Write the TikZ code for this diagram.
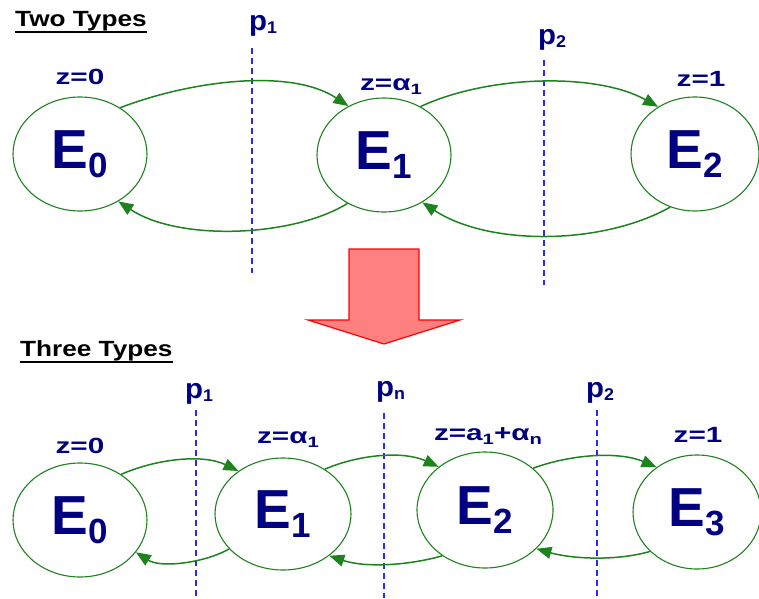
\documentclass[tikz,border=0pt]{standalone}
\usepackage{fontspec}
\setmainfont{Liberation Sans}
\usetikzlibrary{arrows.meta,shapes.geometric}
\definecolor{txtnavy}{RGB}{0,0,128}
\definecolor{edgegreen}{RGB}{30,130,30}
\definecolor{dashblue}{RGB}{40,40,255}
\definecolor{arrowfill}{RGB}{255,128,128}
\newcommand\lowsub[3]{\raisebox{-#2}{\fontsize{#1}{#1}\selectfont #3}}
\newcommand\Elab[1]{\fontsize{55}{55}\selectfont E\lowsub{35}{9pt}{#1}}
\newcommand\zl[1]{\scalebox{1.35}[1]{#1}}
\newcommand\pl[2]{\scalebox{1.05}[1]{p\lowsub{17}{3pt}{#2}}}
\tikzset{
  state/.style={ellipse, draw=edgegreen, line width=1.1pt, inner sep=0pt, text=txtnavy, font=\bfseries},
  trans/.style={draw=edgegreen, line width=1.5pt, -{Triangle[length=15pt,width=12pt]}},
  cut/.style={draw=dashblue, line width=1.5pt, dash pattern=on 6pt off 4pt},
  zlab/.style={text=txtnavy, font=\bfseries\fontsize{22}{22}\selectfont, inner sep=0pt, anchor=base},
  plab/.style={text=txtnavy, font=\bfseries\fontsize{28}{28}\selectfont, inner sep=0pt, anchor=base west},
  title/.style={text=black, font=\bfseries\fontsize{22}{22}\selectfont, inner sep=0pt, anchor=base west},
  uline/.style={draw=black, line width=1.8pt},
  bigarrow/.style={draw=red, fill=arrowfill, line width=1.2pt, line join=miter}
}
\begin{document}
\begin{tikzpicture}[x=1pt,y=1pt]
\useasboundingbox (0,0) rectangle (759,598);
% ---------- Two types ----------
\node[title] (tTwo) at (15,571) {\scalebox{1.19}[1]{Two Types}};
\draw[uline] ([yshift=-5pt]tTwo.base west) -- ([yshift=-5pt]tTwo.base east);

\node[state, minimum width=134pt, minimum height=114pt] (A0) at (80,444) {\Elab{0}};
\node[state, minimum width=134pt, minimum height=114pt] (A1) at (384,443) {\Elab{1}};
\node[state, minimum width=128pt, minimum height=114pt] (A2) at (695,444) {\Elab{2}};

\node[zlab] (zA0) at (80,513) {\zl{z=0}};
\node[zlab] (zA1) at (391,507) {\zl{z=α\lowsub{15}{4pt}{1}}};
\node[zlab] (zA2) at (701,511) {\zl{z=1}};

\node[plab] (pA1) at (249,567) {\pl{p}{1}};
\node[plab] (pA2) at (538,553) {\pl{p}{2}};
\coordinate (cA1t) at (252,550); \coordinate (cA1b) at (252,325);
\coordinate (cA2t) at (544,538); \coordinate (cA2b) at (544,313);
\draw[cut] (cA1t) -- (cA1b);
\draw[cut] (cA2t) -- (cA2b);

\draw[trans] (A0.49) .. controls +(67,26) and +(-59,39) .. (A1.126);
\draw[trans] (A1.233) .. controls +(-55,-34) and +(60,-40) .. (A0.309);
\draw[trans] (A1.53) .. controls +(69,32) and +(-61,34) .. (A2.128);
\draw[trans] (A2.245) .. controls +(-70,-39) and +(65,-43) .. (A1.309);

% ---------- Arrow ----------
\draw[bigarrow] (349,349) -- (419,349) -- (419,278) -- (460,278) -- (384,254) -- (308,278) -- (349,278) -- cycle;

% ---------- Three types ----------
\node[title] (tThree) at (20,242) {\scalebox{1.19}[1]{Three Types}};
\draw[uline] ([yshift=-6pt]tThree.base west) -- ([yshift=-6pt]tThree.base east);

\node[state, minimum width=134pt, minimum height=114pt] (B0) at (80,78) {\Elab{0}};
\node[state, minimum width=136pt, minimum height=112pt] (B1) at (283,84) {\Elab{1}};
\node[state, minimum width=136pt, minimum height=116pt] (B2) at (485,88) {\Elab{2}};
\node[state, minimum width=128pt, minimum height=114pt] (B3) at (697,86) {\Elab{3}};

\node[zlab] (zB0) at (80,145) {\zl{z=0}};
\node[zlab] (zB1) at (288,155) {\zl{z=α\lowsub{15}{4pt}{1}}};
\node[zlab] (zB2) at (488,158) {\zl{z=a\lowsub{15}{4pt}{1}+α\lowsub{15}{4pt}{n}}};
\node[zlab] (zB3) at (698,156) {\zl{z=1}};

\node[plab] (pB1) at (185,200) {\pl{p}{1}};
\node[plab] (pBn) at (376,202) {\pl{p}{n}};
\node[plab] (pB2) at (586,201) {\pl{p}{2}};
\coordinate (cB1t) at (196,188); \coordinate (cB1b) at (196,0);
\coordinate (cBnt) at (384,185); \coordinate (cBnb) at (384,0);
\coordinate (cB2t) at (597,188); \coordinate (cB2b) at (597,0);
\draw[cut] (cB1t) -- (cB1b);
\draw[cut] (cBnt) -- (cBnb);
\draw[cut] (cB2t) -- (cB2b);

\draw[trans] (B0.48) .. controls +(37,16) and +(-35,17) .. (B1.136);
\draw[trans] (B1.213) .. controls +(-25,-14) and +(25,-16) .. (B0.330);
\draw[trans] (B1.47) .. controls +(35,15) and +(-35,16) .. (B2.137);
\draw[trans] (B2.227) .. controls +(-35,-10) and +(35,-12) .. (B1.318);
\draw[trans] (B2.41) .. controls +(38,14) and +(-38,16) .. (B3.132);
\draw[trans] (B3.220) .. controls +(-35,-10) and +(35,-10) .. (B2.323);
\end{tikzpicture}
\end{document}
